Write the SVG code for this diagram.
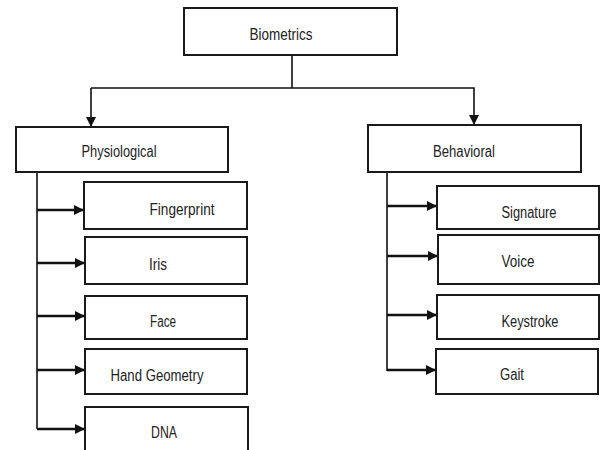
<svg xmlns="http://www.w3.org/2000/svg" width="601" height="450" viewBox="0 0 601 450">
<style>
.box{fill:#fff;stroke:#1a1a1a;stroke-width:2}
.t{font-family:"Liberation Sans",Arial,sans-serif;font-size:16px;fill:#222;text-anchor:middle}
.ln{fill:none;stroke:#111;stroke-width:1.6}
.ar{fill:none;stroke:#111;stroke-width:2.6}
</style>
<defs>
<marker id="ah" viewBox="0 0 10 10" refX="10" refY="5" markerWidth="10" markerHeight="12" markerUnits="userSpaceOnUse" orient="auto">
<path d="M0,0 L10,5 L0,10 Z" fill="#111"/>
</marker>
</defs>
<rect width="601" height="450" fill="#fff"/>
<g id="connectors">
<line class="ln" x1="292" y1="55" x2="292" y2="88"/>
<polyline class="ln" points="91,88 474,88 474,125" marker-end="url(#ah)"/>
<line class="ln" x1="91" y1="88" x2="91" y2="127" marker-end="url(#ah)"/>
<line class="ln" x1="37" y1="172" x2="37" y2="429"/>
<line class="ar" x1="37" y1="210" x2="84" y2="210" marker-end="url(#ah)"/>
<line class="ar" x1="37" y1="263" x2="85" y2="263" marker-end="url(#ah)"/>
<line class="ar" x1="37" y1="316" x2="85" y2="316" marker-end="url(#ah)"/>
<line class="ar" x1="37" y1="370" x2="85" y2="370" marker-end="url(#ah)"/>
<line class="ar" x1="37" y1="429" x2="85" y2="429" marker-end="url(#ah)"/>
<line class="ln" x1="387" y1="172" x2="387" y2="371"/>
<line class="ar" x1="387" y1="206" x2="437" y2="206" marker-end="url(#ah)"/>
<line class="ar" x1="387" y1="256" x2="438" y2="256" marker-end="url(#ah)"/>
<line class="ar" x1="387" y1="315" x2="437" y2="315" marker-end="url(#ah)"/>
<line class="ar" x1="387" y1="370" x2="436" y2="370" marker-end="url(#ah)"/>
</g>
<g id="biometrics"><rect class="box" x="184" y="8" width="213" height="47"/><text class="t" x="281" y="40" textLength="63" lengthAdjust="spacingAndGlyphs">Biometrics</text></g>
<g id="physiological"><rect class="box" x="16" y="127" width="212" height="45"/><text class="t" x="119" y="157" textLength="75" lengthAdjust="spacingAndGlyphs">Physiological</text></g>
<g id="behavioral"><rect class="box" x="368" y="125" width="213" height="47"/><text class="t" x="464" y="157" textLength="62" lengthAdjust="spacingAndGlyphs">Behavioral</text></g>
<g id="fingerprint"><rect class="box" x="84" y="182" width="163" height="47"/><text class="t" x="182" y="215" textLength="65" lengthAdjust="spacingAndGlyphs">Fingerprint</text></g>
<g id="iris"><rect class="box" x="85" y="237" width="162" height="47"/><text class="t" x="158" y="270" textLength="18" lengthAdjust="spacingAndGlyphs">Iris</text></g>
<g id="face"><rect class="box" x="85" y="296" width="162" height="43"/><text class="t" x="163" y="327" textLength="26" lengthAdjust="spacingAndGlyphs">Face</text></g>
<g id="hand-geometry"><rect class="box" x="85" y="349" width="162" height="45"/><text class="t" x="157" y="381" textLength="93" lengthAdjust="spacingAndGlyphs">Hand Geometry</text></g>
<g id="dna"><rect class="box" x="85" y="407" width="163" height="50"/><text class="t" x="164" y="438" textLength="26" lengthAdjust="spacingAndGlyphs">DNA</text></g>
<g id="signature"><rect class="box" x="437" y="186" width="162" height="43"/><text class="t" x="529" y="218" textLength="55" lengthAdjust="spacingAndGlyphs">Signature</text></g>
<g id="voice"><rect class="box" x="438" y="235" width="161" height="49"/><text class="t" x="518" y="267" textLength="33" lengthAdjust="spacingAndGlyphs">Voice</text></g>
<g id="keystroke"><rect class="box" x="437" y="295" width="162" height="44"/><text class="t" x="530" y="327" textLength="57" lengthAdjust="spacingAndGlyphs">Keystroke</text></g>
<g id="gait"><rect class="box" x="436" y="349" width="162" height="45"/><text class="t" x="512" y="380" textLength="24" lengthAdjust="spacingAndGlyphs">Gait</text></g>
</svg>
